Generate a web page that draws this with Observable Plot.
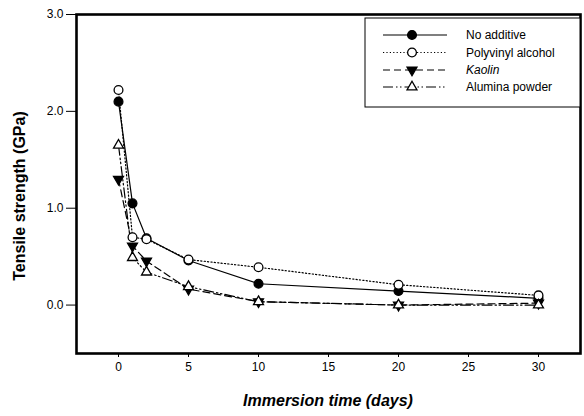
<!DOCTYPE html>
<html>
<head>
<meta charset="utf-8">
<script src="https://cdn.jsdelivr.net/npm/d3@7"></script>
<script src="https://cdn.jsdelivr.net/npm/@observablehq/plot@0.6"></script>
<style>
  html, body { margin: 0; padding: 0; background: #fff; }
  svg { font-family: "Liberation Sans", Arial, sans-serif; }
</style>
</head>
<body>
<div id="chart"></div>
<script>
const days = [0, 1, 2, 5, 10, 20, 30];
const noAdditive = [2.10, 1.05, 0.69, 0.46, 0.22, 0.145, 0.07];
const polyvinylAlcohol = [2.22, 0.70, 0.68, 0.47, 0.39, 0.21, 0.10];
const kaolin = [1.30, 0.61, 0.455, 0.165, 0.035, 0.00, 0.02];
const alumina = [1.65, 0.49, 0.34, 0.19, 0.035, 0.00, 0.00];
const seriesNames = ["No additive", "Polyvinyl alcohol", "Kaolin", "Alumina powder"];
const xTicks = [0, 5, 10, 15, 20, 25, 30];
const yTicks = [0, 1, 2, 3];

const seriesValues = [noAdditive, polyvinylAlcohol, kaolin, alumina];
const styles = [
  {dash: null, symbol: "circle", fill: "black", rotate: 0, r: 4.4},
  {dash: "1.2,2.2", symbol: "circle", fill: "white", rotate: 0, r: 4.4},
  {dash: "7,4", symbol: "triangle", fill: "black", rotate: 180, r: 3.7},
  {dash: "10,3,1.5,2.5,1.5,3", symbol: "triangle", fill: "white", rotate: 0, r: 3.7}
];

const marks = [];
seriesValues.forEach((vals, i) => {
  const data = days.map((d, j) => ({day: d, value: vals[j]}));
  const s = styles[i];
  marks.push(Plot.line(data, {x: "day", y: "value", stroke: "black", strokeWidth: 1.2, strokeDasharray: s.dash}));
});
seriesValues.forEach((vals, i) => {
  const data = days.map((d, j) => ({day: d, value: vals[j]}));
  const s = styles[i];
  marks.push(Plot.dot(data, {x: "day", y: "value", symbol: s.symbol, r: s.r, fill: s.fill, stroke: "black", strokeWidth: 1.3, rotate: s.rotate}));
});

const chart = Plot.plot({
  width: 584,
  height: 416,
  marginLeft: 76,
  marginRight: 4,
  marginTop: 14,
  marginBottom: 63,
  style: {fontFamily: "Liberation Sans, Arial, sans-serif", fontSize: "12px", color: "black", background: "white"},
  x: {domain: [-3, 33], ticks: xTicks, tickSize: 4, tickPadding: 5, label: null},
  y: {domain: [-0.5, 3.0], ticks: yTicks, tickFormat: d3.format(".1f"), tickSize: 10, tickPadding: 3, label: null},
  marks: [
    Plot.axisX({ticks: xTicks, tickSize: 4, tickPadding: 5, fontSize: 12, label: null}),
    Plot.axisY({ticks: yTicks, tickSize: 10, tickPadding: 3, tickFormat: d3.format(".1f"), fontSize: 12, label: null}),
    ...marks,
    Plot.frame({stroke: "black", strokeWidth: 2.6})
  ]
});

const svg = d3.select(chart);
// axis titles
svg.append("text")
  .attr("x", 328).attr("y", 406)
  .attr("text-anchor", "middle")
  .style("font-size", "16px").style("font-weight", "bold").style("font-style", "italic")
  .text("Immersion time (days)");
svg.append("text")
  .attr("transform", "translate(25,196) rotate(-90)")
  .attr("text-anchor", "middle")
  .style("font-size", "16px").style("font-weight", "bold")
  .text("Tensile strength (GPa)");

// legend
const lg = svg.append("g").attr("text-anchor", "start");
lg.append("rect").attr("x", 365).attr("y", 18).attr("width", 215).attr("height", 89)
  .attr("fill", "white").attr("stroke", "black").attr("stroke-width", 1);
const rowY = [35, 52.5, 70, 87];
seriesNames.forEach((name, i) => {
  const s = styles[i];
  const y = rowY[i];
  lg.append("line").attr("x1", 383).attr("x2", 447).attr("y1", y).attr("y2", y)
    .attr("stroke", "black").attr("stroke-width", 1.2)
    .attr("stroke-dasharray", s.dash);
  const sym = d3.symbol(s.symbol === "circle" ? d3.symbolCircle : d3.symbolTriangle, Math.PI * s.r * s.r);
  lg.append("path").attr("d", sym())
    .attr("transform", `translate(412,${y}) rotate(${s.rotate})`)
    .attr("fill", s.fill).attr("stroke", "black").attr("stroke-width", 1.3);
  lg.append("text").attr("x", 466).attr("y", y).attr("dy", "0.35em")
    .attr("text-anchor", "start")
    .style("font-size", "12px")
    .style("font-style", name === "Kaolin" ? "italic" : "normal")
    .text(name);
});

document.getElementById("chart").appendChild(chart);
</script>
</body>
</html>
